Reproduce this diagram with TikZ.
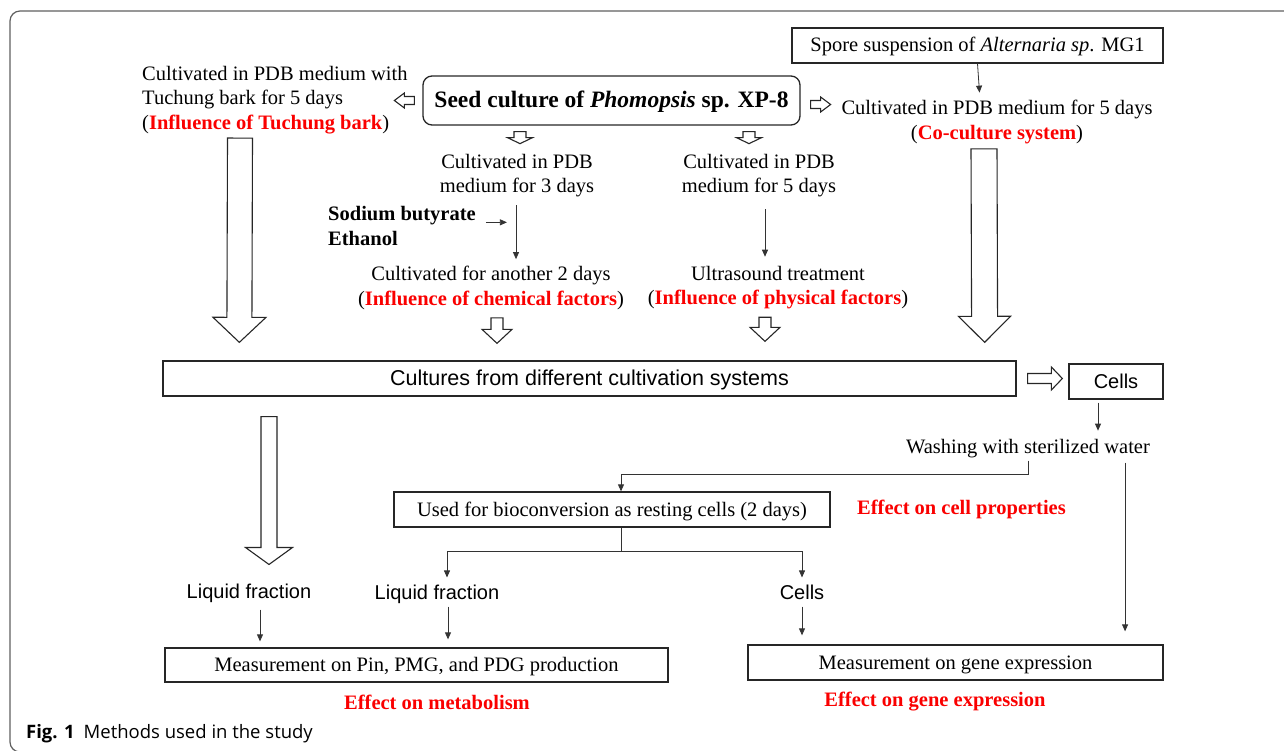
\documentclass[tikz,border=0pt]{standalone}
\usepackage{fontspec}
\setmainfont{Liberation Serif}
\newfontfamily\arialfont{Liberation Sans}
\newfontfamily\capfont{Open Sans}
\usetikzlibrary{arrows.meta,calc,positioning}
\definecolor{effred}{RGB}{250,0,0}
\definecolor{framegray}{RGB}{95,95,95}
\newcommand\bodysize{\fontsize{20.5}{24.5}\selectfont}
\newcommand\sanssize{\arialfont\fontsize{20}{24}\selectfont}
\newcommand\redbf[1]{\textcolor{effred}{\textbf{#1}}}
% hollow block arrow: from, to, half shaft, half head, head length
\newcommand\hollowarrow[5]{%
  \path (#1) coordinate (ha1) (#2) coordinate (ha2);
  \draw[harrow] let \p1=($(ha2)-(ha1)$), \n1={atan2(\y1,\x1)}, \n2={veclen(\x1,\y1)} in
    ([shift={(ha1)},rotate=\n1]0,#3) -- ([shift={(ha1)},rotate=\n1]\n2-#5,#3)
    -- ([shift={(ha1)},rotate=\n1]\n2-#5,#4) -- ([shift={(ha1)},rotate=\n1]\n2,0)
    -- ([shift={(ha1)},rotate=\n1]\n2-#5,-#4) -- ([shift={(ha1)},rotate=\n1]\n2-#5,-#3)
    -- ([shift={(ha1)},rotate=\n1]0,-#3) -- cycle;}
\begin{document}
\begin{tikzpicture}[x=1pt, y=-1pt,
    txt/.style={inner sep=0pt, align=center, font=\bodysize},
    sanstxt/.style={inner sep=0pt, font=\sanssize},
    box/.style={draw=black!85, line width=1.3pt, inner sep=0pt, minimum height=35pt,
        text height=16pt, text depth=3pt, font=\bodysize},
    effect/.style={inner sep=0pt, text=effred, font=\bodysize\bfseries},
    tarrow/.style={draw=black!80, line width=0.8pt, -{Triangle[length=7pt,width=6pt]}},
    harrow/.style={draw=black!85, fill=white, line width=1.1pt, line join=miter}]
    \useasboundingbox (0,0) rectangle (1284,751);
    \clip (0,0) rectangle (1284,751);
    % frame
    \draw[framegray, line width=1.2pt, rounded corners=10pt] (1300,11) -- (10,11) -- (10,752) -- (1300,752);
    \node[anchor=west, inner sep=0pt, font=\capfont\fontsize{18.5}{22}\selectfont] (cap) at (26,734) {\textbf{Fig. 1}\hspace{9pt}Methods used in the study};

    % top row
    \node[box, rounded corners=9pt, minimum width=377pt, minimum height=49pt, text height=19pt, text depth=4pt,
        font=\fontsize{23.5}{28}\selectfont\bfseries] (seed) at (611.5,100.5) {Seed culture of \textit{Phomopsis} sp. XP-8};
    \node[txt, align=left, anchor=west] (bark) at (142,100) {Cultivated in PDB medium with\\Tuchung bark for 5 days\\(\redbf{Influence of Tuchung bark})};
    \node[box, minimum width=371pt] (spore) at (977.5,45.5) {Spore suspension of \textit{Alternaria sp}. MG1};
    \node[txt] (cocult) at (997,122) {Cultivated in PDB medium for 5 days\\(\redbf{Co-culture system})};
    \node[txt] (pdb3) at (517,175.5) {Cultivated in PDB\\medium for 3 days};
    \node[txt] (pdb5) at (759,175.5) {Cultivated in PDB\\medium for 5 days};
    \node[txt, align=left, anchor=west, font=\bodysize\bfseries] (chem) at (328,226) {Sodium butyrate\\Ethanol};
    \node[txt] (another) at (491,288) {Cultivated for another 2 days\\(\redbf{Influence of chemical factors})};
    \node[txt] (ultra) at (778,287.5) {Ultrasound treatment\\(\redbf{Influence of physical factors})};

    % middle
    \node[box, minimum width=853pt, font=\arialfont\fontsize{21.5}{25}\selectfont] (cult) at (589.5,378.5) {Cultures from different cultivation systems};
    \node[box, minimum width=94pt, font=\sanssize] (cells) at (1116,381.5) {Cells};
    \node[txt] (wash) at (1028,449) {Washing with sterilized water};
    \node[box, minimum width=436pt] (used) at (612,509.5) {Used for bioconversion as resting cells (2 days)};
    \node[effect] (cellprop) at (961.5,509.5) {Effect on cell properties};

    % bottom
    \node[sanstxt] (liq1) at (249,593) {Liquid fraction};
    \node[sanstxt] (liq2) at (437,594) {Liquid fraction};
    \node[sanstxt] (cellsb) at (802,592) {Cells};
    \node[box, minimum width=503pt, minimum height=34pt] (meas1) at (416.5,665) {Measurement on Pin, PMG, and PDG production};
    \node[box, minimum width=415pt] (meas2) at (955.5,662.5) {Measurement on gene expression};
    \node[effect] (effmet) at (437,702) {Effect on metabolism};
    \node[effect] (effgene) at (935,702) {Effect on gene expression};

    % hollow arrows
    \hollowarrow{$(seed.west)+(-8,0)$}{$(seed.west)+(-28,0)$}{4}{7.5}{10}
    \hollowarrow{$(seed.east)+(10,4)$}{$(seed.east)+(30,4)$}{4}{7.5}{10}
    \foreach \n/\dx in {pdb3/3, pdb5/-10} {
        \hollowarrow{$(seed.south -| \n)+(\dx,6)$}{$(seed.south -| \n)+(\dx,18)$}{6}{12.5}{6}
    }
    \hollowarrow{$(bark.south west)+(98,4)$}{$(cult.north west)+(77,-18)$}{12.5}{26.5}{25}
    \hollowarrow{$(cocult.south)+(-13,5)$}{$(cult.north east)+(-32,-18)$}{13}{26}{26}
    \hollowarrow{$(another.south)+(6,8)$}{$(another.south |- cult.north)+(6,-17)$}{6}{15}{14}
    \hollowarrow{$(ultra.south)+(-13,8)$}{$(ultra.south |- cult.north)+(-13,-19)$}{6}{15}{14}
    \hollowarrow{$(cult.east)+(11,0)$}{$(cult.east -| cells.west)+(-6,0)$}{5}{11.5}{11}
    \hollowarrow{$(cult.south -| liq1)+(20,20)$}{$(liq1.north)+(20,-19)$}{8}{23.5}{17}

    % thin arrows
    \draw[tarrow] (spore.south) -- ++(2,29);
    \draw[tarrow] ($(pdb3.south)+(-1,8)$) -- ($(another.north)+(25,-7)$);
    \draw[tarrow] ($(pdb5.south)+(6,12)$) -- ($(ultra.north)+(-13,-9)$);
    \draw[tarrow] ($(chem.north east)+(10,16)$) -- ++(21,0);
    \draw[tarrow] ($(cells.south)+(-18,3)$) -- ++(0,28);
    \draw[tarrow] ($(wash.south)+(0,2)$) -- ++(0,14) -| ($(used.north)+(9,0)$);
    \draw[tarrow] ($(wash.south east)+(-25,4)$) -- ($(wash.south east |- meas2.north)+(-25,-13)$);
    \coordinate (branch) at ($(used.south)+(9,24)$);
    \draw[tarrow] ($(used.south)+(9,0)$) -- (branch) -| ($(liq2.north)+(10,-7)$);
    \draw[tarrow] (branch) -| ($(cellsb.north)+(0,-7)$);
    \draw[tarrow] ($(liq1.south)+(11,7)$) -- ($(meas1.north -| liq1.south)+(11,-6)$);
    \draw[tarrow] ($(liq2.south)+(11,3)$) -- ($(meas1.north -| liq2.south)+(11,-8)$);
    \draw[tarrow] ($(cellsb.south)+(0,7)$) -- ($(meas2.north -| cellsb.south)+(0,-9)$);
\end{tikzpicture}
\end{document}
